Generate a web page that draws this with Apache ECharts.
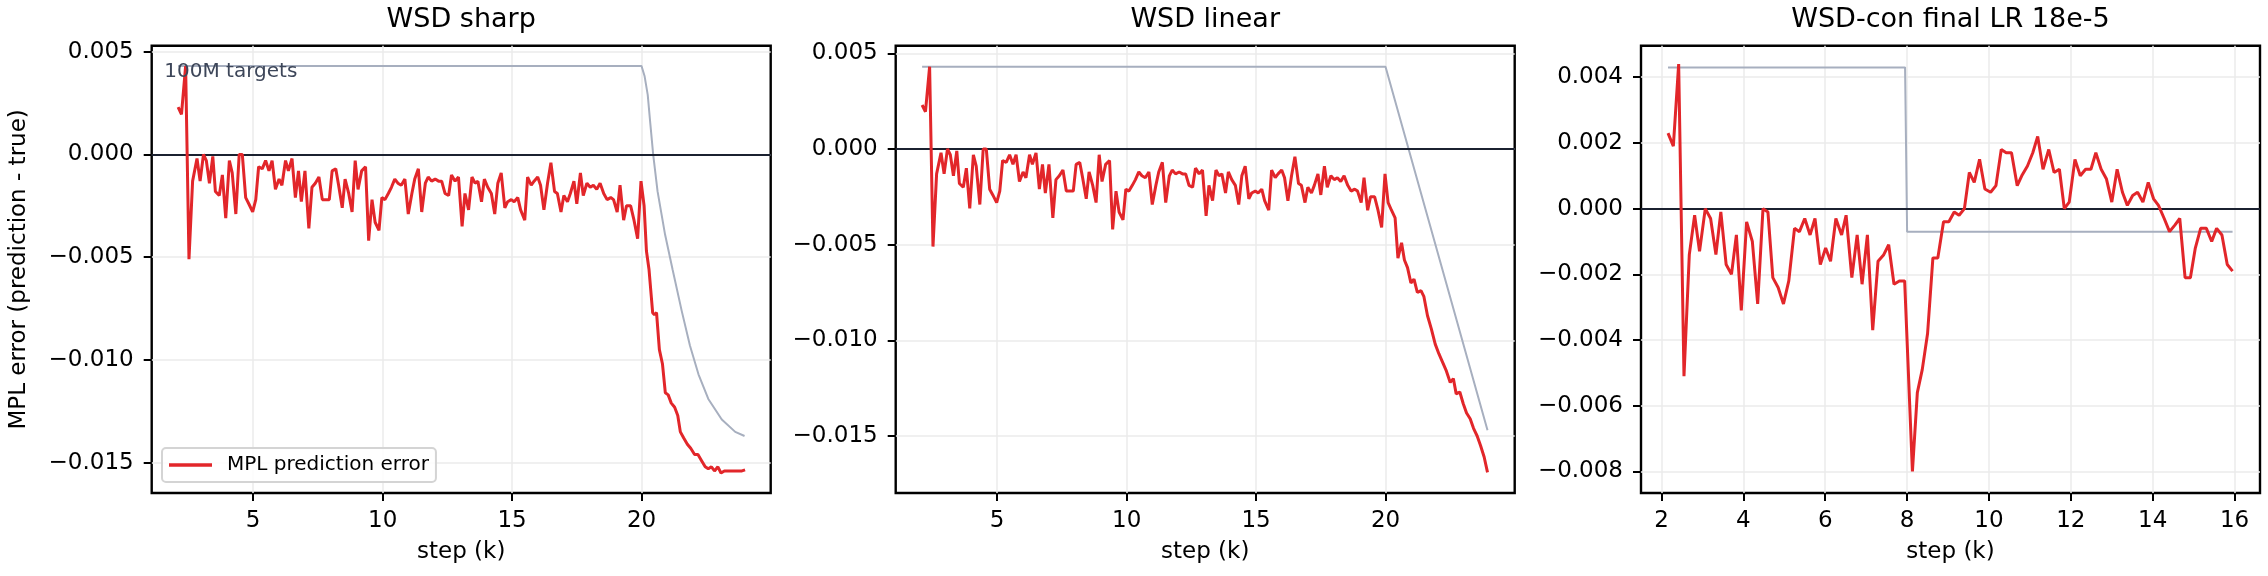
<!DOCTYPE html>
<html>
<head>
<meta charset="utf-8">
<script src="https://cdn.jsdelivr.net/npm/echarts@6/dist/echarts.min.js"></script>
<style>
html,body{margin:0;padding:0;background:#fff;}
#chart{width:2268px;height:576px;}
</style>
</head>
<body>
<div id="chart"></div>
<script>
// ---------- data ----------
const panelTitles = ['WSD sharp', 'WSD linear', 'WSD-con final LR 18e-5'];
const legendName = 'MPL prediction error';
const annotationText = '100M targets';

// stable phase (shared by WSD sharp and WSD linear), step in k
const stableSteps = [
  2.10,2.23,2.39,2.52,2.66,2.83,2.95,3.08,3.19,3.31,
  3.44,3.54,3.69,3.81,3.94,4.08,4.19,4.33,4.46,4.58,
  4.71,4.83,4.98,5.10,5.21,5.35,5.48,5.61,5.73,5.86,
  6.00,6.11,6.25,6.36,6.50,6.63,6.75,6.86,7.00,7.15,
  7.27,7.40,7.54,7.67,7.80,7.94,8.05,8.19,8.30,8.44,
  8.55,8.69,8.82,8.94,9.05,9.19,9.34,9.46,9.59,9.71,
  9.86,9.97,10.09,10.22,10.34,10.47,10.59,10.72,10.86,10.99,
  11.13,11.24,11.38,11.51,11.65,11.76,11.89,12.03,12.16,12.28,
  12.41,12.55,12.66,12.80,12.93,13.07,13.18,13.32,13.45,13.57,
  13.68,13.82,13.93,14.06,14.20,14.33,14.45,14.58,14.72,14.83,
  14.97,15.08,15.22,15.33,15.49,15.60,15.74,15.85,15.99,16.10,
  16.23,16.37,16.50,16.64,16.75,16.89,17.00,17.14,17.25,17.39,
  17.50,17.64,17.75,17.89,18.02,18.14,18.27,18.40,18.54,18.67,
  18.81,18.92,19.06,19.17,19.31,19.42,19.58,19.71,19.85,19.98
];
const stableError = [
  0.0023,0.00195,0.0043,-0.0051,-0.0013,-0.0002,-0.0013,0.0,-0.0003,-0.0014,
  -0.0001,-0.0018,-0.0020,-0.0010,-0.0031,-0.0003,-0.0009,-0.0029,0.0,0.0,
  -0.0021,-0.0024,-0.0028,-0.0022,-0.0006,-0.0007,-0.0003,-0.0008,-0.0003,-0.0017,
  -0.0012,-0.0015,-0.0003,-0.0008,-0.0002,-0.0021,-0.0008,-0.0023,-0.0008,-0.0036,
  -0.0016,-0.0014,-0.0011,-0.0022,-0.0022,-0.0022,-0.0008,-0.0007,-0.0015,-0.0026,
  -0.0012,-0.0019,-0.0028,-0.0003,-0.0017,-0.0008,-0.0006,-0.0042,-0.0022,-0.0033,
  -0.0037,-0.0021,-0.0022,-0.0019,-0.0016,-0.0012,-0.0014,-0.0015,-0.0012,-0.0029,
  -0.0019,-0.0012,-0.0007,-0.0028,-0.0014,-0.0011,-0.0013,-0.0012,-0.0013,-0.0013,
  -0.0019,-0.0020,-0.0010,-0.0013,-0.0011,-0.0035,-0.0019,-0.0027,-0.0011,-0.0014,
  -0.0013,-0.0023,-0.0012,-0.0016,-0.0019,-0.0029,-0.0014,-0.0009,-0.0026,-0.0023,
  -0.0022,-0.0023,-0.0021,-0.0027,-0.0032,-0.0011,-0.0015,-0.0013,-0.0011,-0.0015,
  -0.0027,-0.0014,-0.0004,-0.0018,-0.0019,-0.0028,-0.0020,-0.0023,-0.0019,-0.0013,
  -0.0024,-0.0009,-0.0020,-0.0014,-0.0016,-0.0015,-0.0017,-0.0014,-0.0019,-0.0022,
  -0.0021,-0.0022,-0.0028,-0.0015,-0.0032,-0.0025,-0.0025,-0.0032,-0.0041,-0.0013
];

// WSD sharp decay phase
const sharpDecaySteps = [20.10,20.19,20.29,20.43,20.50,20.58,20.69,20.81,20.92,21.03,
  21.15,21.28,21.40,21.50,21.63,21.77,21.90,22.05,22.18,22.32,
  22.46,22.58,22.70,22.82,22.95,23.07,23.20,23.35,23.50,23.62,23.75,23.88,24.00];
const sharpDecayError = [-0.0025,-0.0047,-0.0056,-0.0077,-0.0078,-0.0077,-0.0095,-0.0102,-0.0116,-0.0117,
  -0.0121,-0.0123,-0.0127,-0.0135,-0.0138,-0.0141,-0.0143,-0.0146,-0.0146,-0.0149,
  -0.0152,-0.0153,-0.0152,-0.0154,-0.0152,-0.0155,-0.0154,-0.0154,-0.0154,-0.0154,-0.0154,-0.0154,-0.01535];
const sharpTargetSteps = [2.10,20.00,20.12,20.24,20.34,20.45,20.62,20.91,21.20,21.55,21.87,22.20,22.58,23.10,23.62,23.98];
const sharpTarget = [0.0043,0.0043,0.0038,0.0029,0.0015,0.0000,-0.0018,-0.0039,-0.0056,-0.0076,-0.0093,-0.0107,-0.0119,-0.0129,-0.0135,-0.0137];

// WSD linear decay phase
const linearDecaySteps = [20.10,20.23,20.37,20.48,20.62,20.73,20.85,20.98,21.10,21.23,
  21.37,21.48,21.62,21.77,21.92,22.06,22.19,22.35,22.50,22.62,
  22.73,22.87,23.00,23.13,23.27,23.40,23.54,23.67,23.81,23.94];
const linearDecayError = [-0.0028,-0.0032,-0.0036,-0.0057,-0.0049,-0.0058,-0.0062,-0.0070,-0.0068,-0.0075,
  -0.0074,-0.0077,-0.0087,-0.0094,-0.0102,-0.0107,-0.0111,-0.0116,-0.0122,-0.0120,
  -0.0128,-0.0127,-0.0133,-0.0138,-0.0141,-0.0146,-0.0150,-0.0155,-0.0161,-0.0169];
const linearTargetSteps = [2.10,20.00,23.94];
const linearTarget = [0.0043,0.0043,-0.0147];

// WSD-con final LR 18e-5
const conSteps = [
  2.16,2.29,2.42,2.55,2.68,2.81,2.93,3.07,3.20,3.33,
  3.45,3.58,3.71,3.83,3.95,4.08,4.22,4.35,4.48,4.60,
  4.72,4.85,4.98,5.11,5.25,5.37,5.50,5.63,5.75,5.88,
  6.01,6.13,6.26,6.40,6.51,6.65,6.78,6.90,7.03,7.16,
  7.29,7.43,7.55,7.68,7.81,7.94,8.13,8.25,8.37,8.50,
  8.63,8.75,8.89,9.02,9.15,9.27,9.40,9.52,9.64,9.77,
  9.90,10.04,10.17,10.30,10.42,10.55,10.69,10.80,10.94,11.07,
  11.19,11.32,11.46,11.59,11.72,11.84,11.96,12.10,12.23,12.36,
  12.49,12.61,12.74,12.87,13.00,13.13,13.26,13.38,13.51,13.63,
  13.76,13.89,14.02,14.14,14.28,14.41,14.54,14.66,14.79,14.92,
  15.04,15.17,15.31,15.44,15.56,15.69,15.82,15.95
];
const conError = [
  0.0023,0.0019,0.0044,-0.0051,-0.0014,-0.0002,-0.0013,0.0,-0.0003,-0.0014,
  -0.0001,-0.0017,-0.0020,-0.0008,-0.0031,-0.0004,-0.0010,-0.0029,0.0,-0.0001,
  -0.0021,-0.0024,-0.0029,-0.0022,-0.0006,-0.0007,-0.0003,-0.0008,-0.0003,-0.0017,
  -0.0012,-0.0016,-0.0003,-0.0008,-0.0002,-0.0021,-0.0008,-0.0023,-0.0008,-0.0037,
  -0.0016,-0.0014,-0.0011,-0.0023,-0.0022,-0.0022,-0.0080,-0.0056,-0.0049,-0.0038,
  -0.0015,-0.0015,-0.0004,-0.0004,-0.0001,-0.0002,0.0,0.0011,0.0008,0.0015,
  0.0006,0.0005,0.0007,0.0018,0.0017,0.0017,0.0007,0.0010,0.0013,0.0017,
  0.0022,0.0012,0.0018,0.0011,0.0012,0.0,0.0002,0.0015,0.0010,0.0012,
  0.0012,0.0017,0.0012,0.0009,0.0002,0.0012,0.0005,0.0001,0.0004,0.0005,
  0.0002,0.0008,0.0003,0.0001,-0.0003,-0.0007,-0.0005,-0.0003,-0.0021,-0.0021,
  -0.0012,-0.0006,-0.0006,-0.0010,-0.0006,-0.0008,-0.0017,-0.0019
];
const conTargetSteps = [2.16,7.95,8.00,15.95];
const conTarget = [0.0043,0.0043,-0.0007,-0.0007];

// tick values
const xTicksWSD = [5,10,15,20];
const xTicksCon = [2,4,6,8,10,12,14,16];
const yTicksWSD = [-0.015,-0.010,-0.005,0.000,0.005];
const yTicksCon = [-0.008,-0.006,-0.004,-0.002,0.000,0.002,0.004];

// ---------- build ----------
const FONT = 'DejaVu Sans';
const RED = '#e2262a';
const GREY = '#a7afbf';
function pairs(xs, ys){ const n = Math.min(xs.length, ys.length); const out=[]; for(let i=0;i<n;i++) out.push([xs[i], ys[i]]); return out; }
function fmtY(v){ return (v < 0 ? '\u2212' : '') + Math.abs(v).toFixed(3); }

const sharpErr = pairs(stableSteps.concat(sharpDecaySteps), stableError.concat(sharpDecayError));
const linearErr = pairs(stableSteps.concat(linearDecaySteps), stableError.concat(linearDecayError));
const conErr = pairs(conSteps, conError);

const gridLefts = [151.7, 895.7, 1641];
const gridW = 619, gridTop = 45.7, gridH = 447.3;

const panels = [
  {xr:[1.08,24.99], yr:[-0.016474,0.00529], xt:xTicksWSD, yt:yTicksWSD, err:sharpErr, tgt:pairs(sharpTargetSteps, sharpTarget)},
  {xr:[1.08,24.99], yr:[-0.01798,0.0054], xt:xTicksWSD, yt:yTicksWSD, err:linearErr, tgt:pairs(linearTargetSteps, linearTarget)},
  {xr:[1.50,16.62], yr:[-0.008655,0.00496], xt:xTicksCon, yt:yTicksCon, err:conErr, tgt:pairs(conTargetSteps, conTarget)}
];

const grid = [], xAxis = [], yAxis = [], series = [], graphic = [];
panels.forEach((p, i) => {
  grid.push({left: gridLefts[i], top: gridTop, width: gridW, height: gridH, show: true,
    borderColor: '#000', borderWidth: 2.4, backgroundColor: 'transparent', containLabel: false});
  xAxis.push({type:'value', gridIndex:i, min:p.xr[0], max:p.xr[1],
    axisLine:{show:false, onZero:false},
    axisTick:{show:true, length:8, customValues:p.xt, lineStyle:{color:'#000', width:2}},
    axisLabel:{customValues:p.xt, margin:17, fontSize:23, color:'#000', fontFamily:FONT, formatter:(v)=>String(v)},
    splitLine:{show:true, lineStyle:{color:'#ebebeb', width:1.5}},
    name:'step (k)', nameLocation:'middle', nameGap:48,
    nameTextStyle:{fontSize:23, color:'#000', fontFamily:FONT}
  });
  const ya = {type:'value', gridIndex:i, min:p.yr[0], max:p.yr[1],
    axisLine:{show:false, onZero:false},
    axisTick:{show:true, length:8, customValues:p.yt, lineStyle:{color:'#000', width:2}},
    axisLabel:{customValues:p.yt, margin:18, fontSize:23, color:'#000', fontFamily:FONT, formatter:fmtY},
    splitLine:{show:true, lineStyle:{color:'#ebebeb', width:1.5}}
  };
  if (i === 0) {
    ya.name = 'MPL error (prediction - true)';
    ya.nameLocation = 'middle';
    ya.nameGap = 121;
    ya.nameTextStyle = {fontSize:23, color:'#000', fontFamily:FONT};
  }
  yAxis.push(ya);
  series.push({type:'line', xAxisIndex:i, yAxisIndex:i, data:p.tgt, symbol:'none', showSymbol:false,
    lineStyle:{color:GREY, width:2}, z:2, silent:true,
    markLine:{silent:true, symbol:['none','none'], label:{show:false}, animation:false,
      lineStyle:{color:'#1b2130', width:2, type:'solid'}, data:[{yAxis:0}]}
  });
  series.push({type:'line', name:legendName, xAxisIndex:i, yAxisIndex:i, data:p.err, symbol:'none', showSymbol:false,
    lineStyle:{color:RED, width:3}, itemStyle:{color:RED}, z:10});
  graphic.push({type:'text', x: gridLefts[i] + gridW/2, y: 20,
    style:{text: panelTitles[i], fontSize:27, fontFamily:FONT, fill:'#000', align:'center', verticalAlign:'middle'}});
});
graphic.push({type:'text', x:164.3, y:71.5, z:20,
  style:{text: annotationText, fontSize:20, fontFamily:FONT, fill:'#3d4659', align:'left', verticalAlign:'middle'}});

const chart = echarts.init(document.getElementById('chart'), null, {renderer:'canvas'});
chart.setOption({
  animation:false,
  backgroundColor:'#fff',
  grid, xAxis, yAxis, series, graphic,
  legend:{data:[{name:legendName, icon:'rect'}], left:162, top:448, itemWidth:43, itemHeight:3.5, padding:[7,7,7,7],
    itemStyle:{color:RED, borderWidth:0},
    borderColor:'#d4d4d4', borderWidth:2, borderRadius:4, backgroundColor:'rgba(255,255,255,0.85)',
    textStyle:{fontSize:20, color:'#000', fontFamily:FONT, padding:[0,0,0,10]}, selectedMode:false}
});
</script>
</body>
</html>
